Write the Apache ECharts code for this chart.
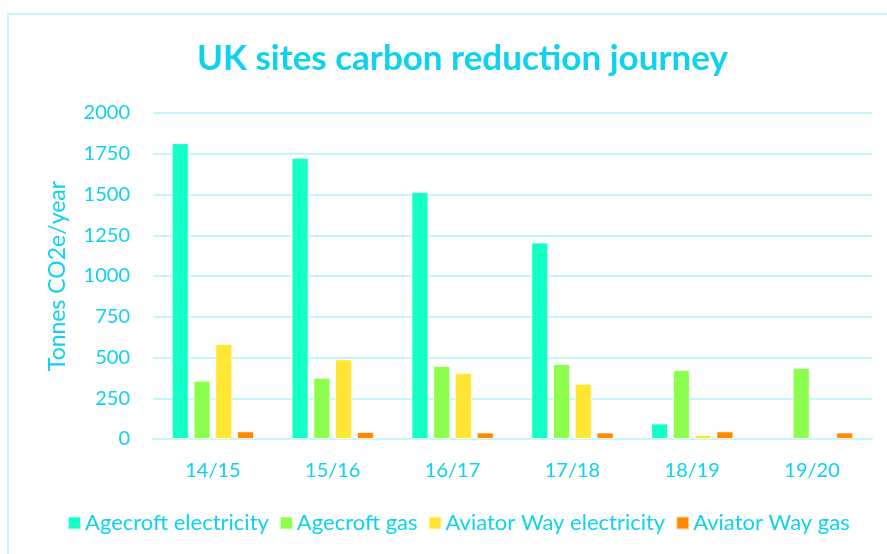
<!DOCTYPE html>
<html>
<head>
<meta charset="utf-8">
<script src="https://cdn.jsdelivr.net/npm/echarts@6/dist/echarts.min.js"></script>
<style>
  html, body { margin: 0; padding: 0; background: #fff; }
  #chart { width: 887px; height: 554px; }
</style>
</head>
<body>
<div id="chart"></div>
<script>
const years = ['14/15', '15/16', '16/17', '17/18', '18/19', '19/20']
const agecroftElectricity = [1815, 1725, 1515, 1205, 95, null]
const agecroftGas = [357, 376, 448, 460, 423, 436]
const aviatorElectricity = [583, 489, 405, 339, 25, null]
const aviatorGas = [47, 43, 40, 40, 47, 40]
const yTicks = [0, 250, 500, 750, 1000, 1250, 1500, 1750, 2000]

const textColor = '#0fd2ee'
const gridColor = '#c4f6fb'
const font = 'Lato'

const chart = echarts.init(document.getElementById('chart'))

function bar(name, data, color) {
  return {
    name,
    type: 'bar',
    data,
    barWidth: 17,
    barGap: '28%',
    itemStyle: { color, borderColor: 'rgba(255,255,255,0.7)', borderWidth: 1 }
  }
}

const option = {
  backgroundColor: '#fff',
  animation: false,
  textStyle: { fontFamily: font },
  graphic: [{
    type: 'rect',
    shape: { x: 8, y: 14, width: 1000, height: 1000 },
    style: { fill: 'none', stroke: gridColor, lineWidth: 2 },
    silent: true
  }],
  title: {
    text: 'UK sites carbon reduction journey',
    left: 192,
    top: 36,
    textStyle: { color: textColor, fontSize: 35, fontWeight: 'bold', fontFamily: font }
  },
  legend: {
    bottom: 15,
    left: 62,
    itemWidth: 13,
    itemHeight: 13,
    itemGap: 10,
    icon: 'rect',
    textStyle: { color: textColor, fontSize: 22, fontFamily: font, padding: [0, 0, 0, -1] },
    data: ['Agecroft electricity', 'Agecroft gas', 'Aviator Way electricity', 'Aviator Way gas']
  },
  grid: { left: 153, right: 15, top: 113, bottom: 115 },
  xAxis: {
    type: 'category',
    data: years,
    axisLine: { show: true, lineStyle: { color: gridColor, width: 2 } },
    axisTick: { show: false },
    axisLabel: { color: textColor, fontSize: 20, margin: 22, fontFamily: font }
  },
  yAxis: {
    type: 'value',
    min: yTicks[0],
    max: yTicks[yTicks.length - 1],
    interval: 250,
    name: 'Tonnes CO2e/year',
    nameLocation: 'middle',
    nameRotate: 90,
    nameGap: 84,
    nameTextStyle: { color: textColor, fontSize: 23, fontFamily: font },
    axisLine: { show: false },
    axisTick: { show: false },
    axisLabel: { color: textColor, fontSize: 20, margin: 23, fontFamily: font, formatter: v => String(v) },
    splitLine: { lineStyle: { color: gridColor, width: 2 } }
  },
  series: [
    bar('Agecroft electricity', agecroftElectricity, '#14ffc6'),
    bar('Agecroft gas', agecroftGas, '#8cff4e'),
    bar('Aviator Way electricity', aviatorElectricity, '#ffe632'),
    bar('Aviator Way gas', aviatorGas, '#ff8a00')
  ]
}

chart.setOption(option)
</script>
</body>
</html>
